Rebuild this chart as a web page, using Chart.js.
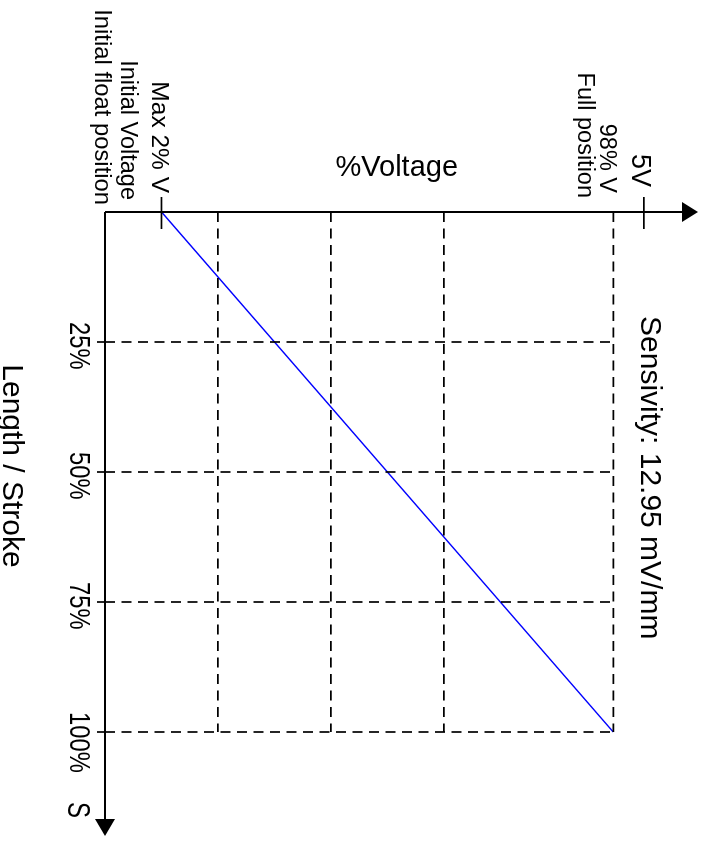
<!DOCTYPE html>
<html>
<head>
<meta charset="utf-8">
<script src="https://cdn.jsdelivr.net/npm/chart.js@4.4.1/dist/chart.umd.min.js"></script>
<style>
  html, body { margin: 0; padding: 0; background: #fff; overflow: hidden; }
  body { width: 707px; height: 843px; position: relative; }
  /* the diagram is laid out lying on its side, then turned a quarter clockwise */
  #wrap {
    position: absolute; left: 0; top: 0;
    width: 843px; height: 707px;
    transform-origin: 0 0;
    transform: translate(707px, 0) rotate(90deg);
  }
</style>
</head>
<body>
<div id="wrap"><canvas id="chart" width="843" height="707"></canvas></div>
<script>
// stroke (length) in %, voltage in %
const STROKE = [0, 100];
const VOLTAGE = [2, 98];

const STROKE_GRID = [25, 50, 75, 100];
const STROKE_LABELS = ["25%", "50%", "75%", "100%"];
const VOLT_GRID = [14, 38, 62, 98];

const VOLT_MIN = -10;      // where the stroke axis sits
const VOLT_MAX = 116;      // arrow tip
const VOLT_5V = 104.5;     // "5V" mark on the voltage axis
const STROKE_MAX = 120;    // arrow tip

const FONT = '"Liberation Sans", Arial, sans-serif';
const DASH = [10, 6.5];

function seg(x1, y1, x2, y2) {
  return [{ x: x1, y: y1 }, { x: x2, y: y2 }];
}

const datasets = [];
VOLT_GRID.forEach((v) => {
  datasets.push({ data: seg(0, v, 100, v), borderColor: "#000", borderWidth: 1.7, borderDash: DASH });
});
STROKE_GRID.forEach((s) => {
  datasets.push({ data: seg(s, VOLT_MIN, s, 98), borderColor: "#000", borderWidth: 1.7, borderDash: DASH });
});
datasets.push({
  data: STROKE.map((s, i) => ({ x: s, y: VOLTAGE[i] })),
  borderColor: "#0000ff",
  borderWidth: 1.5
});

function text(ctx, str, x, y, size, align, squeeze = 1) {
  ctx.save();
  ctx.translate(x, y);
  ctx.scale(squeeze, 1);
  ctx.font = `${size}px ${FONT}`;
  ctx.textAlign = align;
  ctx.textBaseline = "alphabetic";
  ctx.fillText(str, 0, 0);
  ctx.restore();
}

const diagram = {
  id: "diagram",
  afterDatasetsDraw(chart) {
    const { ctx, scales: { x, y } } = chart;
    const x0 = x.getPixelForValue(0);
    const y0 = y.getPixelForValue(VOLT_MIN);
    const xEnd = x.getPixelForValue(STROKE_MAX);
    const yEnd = y.getPixelForValue(VOLT_MAX);
    ctx.save();
    ctx.strokeStyle = "#000";
    ctx.fillStyle = "#000";
    ctx.lineWidth = 2;

    // axes
    ctx.beginPath();
    ctx.moveTo(x0, y0); ctx.lineTo(xEnd - 14, y0);
    ctx.moveTo(x0, y0); ctx.lineTo(x0, yEnd + 14);
    ctx.stroke();

    // arrow heads
    ctx.beginPath();
    ctx.moveTo(xEnd, y0); ctx.lineTo(xEnd - 17, y0 - 10); ctx.lineTo(xEnd - 17, y0 + 10);
    ctx.closePath(); ctx.fill();
    ctx.beginPath();
    ctx.moveTo(x0, yEnd); ctx.lineTo(x0 - 10, yEnd + 16); ctx.lineTo(x0 + 10, yEnd + 16);
    ctx.closePath(); ctx.fill();

    // voltage axis marks
    ctx.lineWidth = 1.7;
    [2, VOLT_5V].forEach((v) => {
      const p = y.getPixelForValue(v);
      ctx.beginPath(); ctx.moveTo(x0 - 15, p); ctx.lineTo(x0 + 17, p); ctx.stroke();
    });
    // stroke axis marks
    STROKE_GRID.forEach((s) => {
      const p = x.getPixelForValue(s);
      ctx.beginPath(); ctx.moveTo(p, y0); ctx.lineTo(p, y0 + 8); ctx.stroke();
    });

    // voltage notes
    const p2 = y.getPixelForValue(2);
    const p98 = y.getPixelForValue(98);
    const p5 = y.getPixelForValue(VOLT_5V);
    text(ctx, "Max 2% V", x0 - 19, p2 + 9, 24.5, "right");
    text(ctx, "Initial Voltage", x0 - 12, p2 + 40, 23.5, "right");
    text(ctx, "Initial float position", x0 - 7, p2 + 66, 23.8, "right");
    text(ctx, "98% V", x0 - 19, p98 + 13, 23.5, "right");
    text(ctx, "Full position", x0 - 14, p98 + 35, 23.5, "right");
    text(ctx, "5V", x0 - 25, p5 + 12, 27, "right");

    // %Voltage reads across the turned picture
    ctx.save();
    ctx.translate(x0 - 36, y.getPixelForValue(52));
    ctx.rotate(-Math.PI / 2);
    ctx.font = `29px ${FONT}`;
    ctx.textAlign = "center";
    ctx.fillText("%Voltage", 0, 0);
    ctx.restore();

    text(ctx, "Sensivity: 12.95 mV/mm", x0 + 104, p5 + 3, 30, "left");

    // stroke tick labels
    STROKE_GRID.forEach((s, i) => {
      text(ctx, STROKE_LABELS[i], x.getPixelForValue(s) - 20, y0 + 35, 29, "left", 0.82);
    });
    text(ctx, "S", x.getPixelForValue(100) + 70, y0 + 37, 32, "left", 0.75);
    text(ctx, "Length / Stroke", x.getPixelForValue(50) - 6, y0 + 102, 30, "center");
    ctx.restore();
  }
};

new Chart(document.getElementById("chart"), {
  type: "scatter",
  data: { datasets: datasets.map((d) => ({ showLine: true, pointRadius: 0, fill: false, ...d })) },
  options: {
    responsive: false,
    animation: false,
    layout: { padding: { left: 212, right: 7, top: 9, bottom: 105 } },
    plugins: { legend: { display: false }, tooltip: { enabled: false } },
    scales: {
      x: { type: "linear", min: 0, max: STROKE_MAX, display: false },
      y: { type: "linear", min: VOLT_MIN, max: VOLT_MAX, display: false }
    }
  },
  plugins: [diagram]
});
</script>
</body>
</html>
